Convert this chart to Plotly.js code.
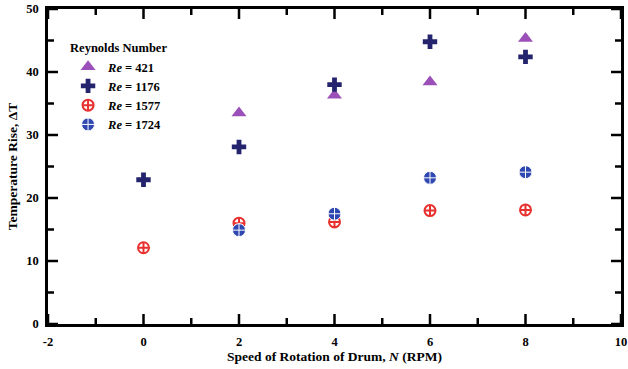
<!DOCTYPE html>
<html><head><meta charset="utf-8">
<script src="https://cdn.plot.ly/plotly-3.0.1.min.js"></script>
<style>html,body{margin:0;padding:0;background:#fff}#chart{width:628px;height:369px}</style>
</head><body><div id="chart"></div>
<script>
const names = ['<b><i>Re</i> = 421</b>', '<b><i>Re</i> = 1176</b>', '<b><i>Re</i> = 1577</b>', '<b><i>Re</i> = 1724</b>'];
const x421 = [2, 4, 6, 8];
const y421 = [33.5, 36.3, 38.4, 45.3];
const x1176 = [0, 2, 4, 6, 8];
const y1176 = [22.9, 28.1, 38.0, 44.8, 42.4];
const x1577 = [0, 2, 4, 6, 8];
const y1577 = [12.1, 16.0, 16.2, 18.0, 18.1];
const x1724 = [2, 4, 6, 8];
const y1724 = [14.9, 17.5, 23.2, 24.1];
const xTickVals = [-2, 0, 2, 4, 6, 8, 10];
const xTickText = ['<b>-2</b>', '<b>0</b>', '<b>2</b>', '<b>4</b>', '<b>6</b>', '<b>8</b>', '<b>10</b>'];
const yTickVals = [0, 10, 20, 30, 40, 50];
const yTickText = ['<b>0</b>', '<b>10</b>', '<b>20</b>', '<b>30</b>', '<b>40</b>', '<b>50</b>'];
const xMinorVals = [-1, 1, 3, 5, 7, 9];
const yMinorVals = [5, 15, 25, 35, 45];
const xRange = [-2, 10];
const yRange = [0, 50];

const fam = 'Liberation Serif, Times New Roman, serif';
const traces = [
  {x: x421, y: y421, name: names[0], mode: 'markers', type: 'scatter',
   marker: {symbol: 'triangle-up', size: 13, color: '#9b4fb8'}},
  {x: x1176, y: y1176, name: names[1], mode: 'markers', type: 'scatter',
   marker: {symbol: 'cross', size: 12, color: '#23236e'}},
  {x: x1577, y: y1577, name: names[2], mode: 'markers', type: 'scatter',
   marker: {symbol: 'circle-cross-open', size: 11, color: '#e8312e', line: {width: 2, color: '#e8312e'}}},
  {x: x1724, y: y1724, name: names[3], mode: 'markers', type: 'scatter',
   marker: {symbol: 'circle-cross', size: 13, color: '#2f47b0', line: {width: 1, color: '#ffffff'}}}
];

// inward tick marks on all four sides, placed through the axes' own scales
const tickLine = {color: '#000', width: 2.5};
const shapes = [];
function addXTicks(vals, len) {
  vals.forEach(v => {
    shapes.push({type: 'line', xref: 'x', yref: 'y', ysizemode: 'pixel', yanchor: yRange[0],
      x0: v, x1: v, y0: 0, y1: len, line: tickLine, layer: 'above'});
    shapes.push({type: 'line', xref: 'x', yref: 'y', ysizemode: 'pixel', yanchor: yRange[1],
      x0: v, x1: v, y0: 0, y1: -len, line: tickLine, layer: 'above'});
  });
}
function addYTicks(vals, len) {
  vals.forEach(v => {
    shapes.push({type: 'line', xref: 'x', yref: 'y', xsizemode: 'pixel', xanchor: xRange[0],
      y0: v, y1: v, x0: 0, x1: len, line: tickLine, layer: 'above'});
    shapes.push({type: 'line', xref: 'x', yref: 'y', xsizemode: 'pixel', xanchor: xRange[1],
      y0: v, y1: v, x0: 0, x1: -len, line: tickLine, layer: 'above'});
  });
}
addXTicks(xTickVals, 10);
addXTicks(xMinorVals, 6);
addYTicks(yTickVals, 10);
addYTicks(yMinorVals, 6);

const axStyle = {showline: true, linewidth: 2.5, linecolor: '#000', mirror: true, ticks: '',
  showgrid: false, zeroline: false};
const layout = {
  width: 628, height: 369,
  margin: {l: 48, r: 7, t: 9, b: 45},
  font: {family: fam, size: 12, color: '#000'},
  showlegend: true,
  shapes: shapes,
  legend: {x: 0.035, y: 0.915, xanchor: 'left', yanchor: 'top', bgcolor: 'rgba(0,0,0,0)',
    title: {text: '<b>Reynolds Number</b>', font: {family: fam, size: 12.5}},
    font: {family: fam, size: 12.5}, itemwidth: 30, tracegroupgap: 0},
  xaxis: Object.assign({}, axStyle, {range: xRange, tickmode: 'array', tickvals: xTickVals, ticktext: xTickText,
    ticklabelstandoff: 4, tickfont: {family: fam, size: 12.5, color: '#000'},
    title: {text: '<b>Speed of Rotation of Drum, <i>N</i> (RPM)</b>', standoff: 4,
      font: {family: fam, size: 13.5}}}),
  yaxis: Object.assign({}, axStyle, {range: yRange, tickmode: 'array', tickvals: yTickVals, ticktext: yTickText,
    ticklabelstandoff: 4, tickfont: {family: fam, size: 12.5, color: '#000'},
    title: {text: '<b>Temperature Rise, ΔT</b>', standoff: 6,
      font: {family: fam, size: 13.5}}})
};
Plotly.newPlot('chart', traces, layout, {displayModeBar: false});
</script></body></html>
